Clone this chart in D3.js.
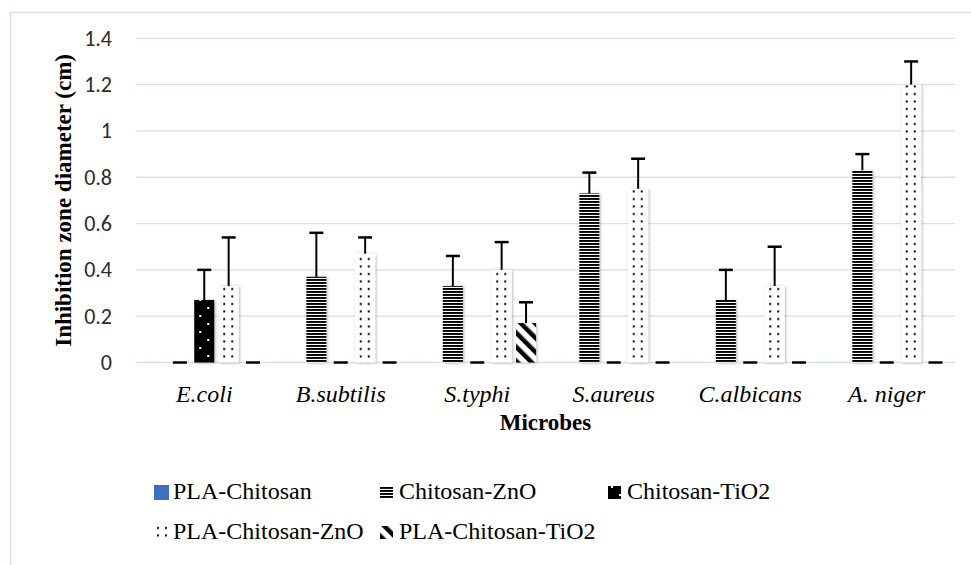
<!DOCTYPE html>
<html>
<head>
<meta charset="utf-8">
<script src="https://cdn.jsdelivr.net/npm/d3@7/dist/d3.min.js"></script>
<style>
    body { margin: 0; background: #fff; }
    #chart { width: 971px; height: 565px; }
    .tick-label { font-family: Carlito, Lato, "Open Sans", sans-serif; font-size: 22px; fill: #2b2b2b; }
    .cat-label { font-family: "Liberation Serif", "Times New Roman", serif; font-style: italic; font-size: 24px; fill: #000; }
    .axis-title { font-family: "Liberation Serif", "Times New Roman", serif; font-weight: bold; font-size: 23px; fill: #000; }
    .legend-text { font-family: "Liberation Serif", "Times New Roman", serif; font-size: 24px; fill: #000; }
</style>
</head>
<body>
<div id="chart"></div>
<script>
// values
const categories = ["E.coli", "B.subtilis", "S.typhi", "S.aureus", "C.albicans", "A. niger"];
const seriesNames = ["PLA-Chitosan", "Chitosan-ZnO", "Chitosan-TiO2", "PLA-Chitosan-ZnO", "PLA-Chitosan-TiO2"];
const yTicks = [0, 0.2, 0.4, 0.6, 0.8, 1, 1.2, 1.4];

const plaChitosan = [0, 0, 0, 0, 0, 0];
const chitosanZnO = [0, 0.37, 0.33, 0.73, 0.27, 0.83];
const chitosanZnOErr = [0, 0.19, 0.13, 0.09, 0.13, 0.07];
const chitosanTiO2 = [0.27, 0, 0, 0, 0, 0];
const chitosanTiO2Err = [0.13, 0, 0, 0, 0, 0];
const plaChitosanZnO = [0.33, 0.47, 0.40, 0.75, 0.33, 1.20];
const plaChitosanZnOErr = [0.21, 0.07, 0.12, 0.13, 0.17, 0.10];
const plaChitosanTiO2 = [0, 0, 0.17, 0, 0, 0];
const plaChitosanTiO2Err = [0, 0, 0.09, 0, 0, 0];

const seriesValues = [plaChitosan, chitosanZnO, chitosanTiO2, plaChitosanZnO, plaChitosanTiO2];
const seriesErrors = [null, chitosanZnOErr, chitosanTiO2Err, plaChitosanZnOErr, plaChitosanTiO2Err];

const W = 971, H = 565;
const plot = {left: 136, right: 955, top: 38.3, bottom: 362.5};

const svg = d3.select("#chart").append("svg")
    .attr("width", W)
    .attr("height", H);

// fills
const defs = svg.append("defs");

const shadow = defs.append("filter").attr("id", "shadow")
    .attr("x", "-30%").attr("y", "-5%").attr("width", "160%").attr("height", "110%");
shadow.append("feDropShadow")
    .attr("dx", 1).attr("dy", 0.5).attr("stdDeviation", 1.6)
    .attr("flood-color", "#000").attr("flood-opacity", 0.3);

const pHl = defs.append("pattern").attr("id", "p-hlines")
    .attr("patternUnits", "userSpaceOnUse").attr("width", 6).attr("height", 3);
pHl.append("rect").attr("width", 6).attr("height", 3).attr("fill", "#fff");
pHl.append("rect").attr("width", 6).attr("height", 1.9).attr("fill", "#000");

const pBd = defs.append("pattern").attr("id", "p-blackdots")
    .attr("patternUnits", "userSpaceOnUse").attr("width", 16).attr("height", 16);
pBd.append("rect").attr("width", 16).attr("height", 16).attr("fill", "#000");
pBd.append("rect").attr("x", 3).attr("y", 3).attr("width", 2).attr("height", 2).attr("fill", "#fff");
pBd.append("rect").attr("x", 11).attr("y", 11).attr("width", 2).attr("height", 2).attr("fill", "#fff");

const pDots = defs.append("pattern").attr("id", "p-dots")
    .attr("patternUnits", "userSpaceOnUse").attr("width", 8).attr("height", 7.5);
pDots.append("rect").attr("width", 8).attr("height", 7.5).attr("fill", "#fff");
pDots.append("rect").attr("x", 3).attr("y", 3).attr("width", 2).attr("height", 2).attr("fill", "#000");

const pDiag = defs.append("pattern").attr("id", "p-diag")
    .attr("patternUnits", "userSpaceOnUse").attr("width", 10).attr("height", 10)
    .attr("patternTransform", "rotate(-45)");
pDiag.append("rect").attr("width", 10).attr("height", 10).attr("fill", "#fff");
pDiag.append("rect").attr("width", 4.5).attr("height", 10).attr("fill", "#000");

const fills = ["#3f6fbf", "url(#p-hlines)", "url(#p-blackdots)", "url(#p-dots)", "url(#p-diag)"];

// outer frame
svg.append("rect")
    .attr("x", 10.5).attr("y", 12.5)
    .attr("width", 1200).attr("height", 1200)
    .attr("fill", "none")
    .attr("stroke", "#d3ddef")
    .attr("stroke-width", 1.5);

const x = d3.scaleBand()
    .domain(categories)
    .range([plot.left, plot.right]);

const xs = d3.scaleBand()
    .domain(seriesNames)
    .range([-61, 61])
    .paddingInner(0.18)
    .paddingOuter(0.09);

const y = d3.scaleLinear()
    .domain([0, 1.4])
    .range([plot.bottom, plot.top]);

// grid
svg.append("g").selectAll("line")
    .data(yTicks)
    .join("line")
    .attr("x1", plot.left).attr("x2", plot.right)
    .attr("y1", d => y(d)).attr("y2", d => y(d))
    .attr("stroke", "#d3dff3")
    .attr("stroke-width", 1.3);

svg.append("g").selectAll("text")
    .data(yTicks)
    .join("text")
    .attr("class", "tick-label")
    .attr("x", 112)
    .attr("y", d => y(d))
    .attr("text-anchor", "end")
    .attr("dominant-baseline", "central")
    .text(d => d);

// bars
const groups = svg.append("g").selectAll("g")
    .data(categories)
    .join("g")
    .attr("transform", d => `translate(${x(d) + x.bandwidth() / 2},0)`);

seriesNames.forEach((name, s) => {
    groups.filter((d, i) => seriesValues[s][i] > 0)
        .append("rect")
        .attr("x", xs(name))
        .attr("width", xs.bandwidth())
        .attr("y", (d) => y(seriesValues[s][categories.indexOf(d)]))
        .attr("height", (d) => plot.bottom - y(seriesValues[s][categories.indexOf(d)]))
        .attr("fill", fills[s])
        .attr("filter", "url(#shadow)");
});

// error bars (plus side only)
seriesNames.forEach((name, s) => {
    if (!seriesErrors[s]) return;
    const cx = xs(name) + xs.bandwidth() / 2;
    groups.each(function (d, i) {
        const g = d3.select(this);
        const v = seriesValues[s][i], e = seriesErrors[s][i];
        g.append("line")
            .attr("x1", cx).attr("x2", cx)
            .attr("y1", y(v)).attr("y2", y(v + e))
            .attr("stroke", "#000").attr("stroke-width", 2);
        g.append("line")
            .attr("x1", cx - 7).attr("x2", cx + 7)
            .attr("y1", y(v + e)).attr("y2", y(v + e))
            .attr("stroke", "#000").attr("stroke-width", 2.5);
    });
});

// category labels
svg.append("g").selectAll("text")
    .data(categories)
    .join("text")
    .attr("class", "cat-label")
    .attr("x", d => x(d) + x.bandwidth() / 2)
    .attr("y", 402)
    .attr("text-anchor", "middle")
    .text(d => d);

svg.append("text")
    .attr("class", "axis-title")
    .attr("x", (plot.left + plot.right) / 2)
    .attr("y", 430)
    .attr("text-anchor", "middle")
    .text("Microbes");

svg.append("text")
    .attr("class", "axis-title")
    .attr("transform", `translate(71,${(plot.top + plot.bottom) / 2}) rotate(-90)`)
    .attr("text-anchor", "middle")
    .text("Inhibition zone diameter (cm)");

// legend
const legendPos = [
    {x: 154, y: 499}, {x: 380, y: 499}, {x: 608, y: 499},
    {x: 154, y: 539}, {x: 380, y: 539}
];

const legend = svg.append("g").selectAll("g")
    .data(seriesNames)
    .join("g")
    .attr("transform", (d, i) => `translate(${legendPos[i].x},${legendPos[i].y})`);

legend.append("rect")
    .attr("x", 0)
    .attr("y", (d, i) => i === 0 ? -14 : -13)
    .attr("width", (d, i) => i === 0 ? 15 : 13)
    .attr("height", (d, i) => i === 0 ? 15 : 13)
    .attr("fill", (d, i) => fills[i]);

legend.append("text")
    .attr("class", "legend-text")
    .attr("x", 19)
    .attr("y", 0)
    .text(d => d);
</script>
</body>
</html>
